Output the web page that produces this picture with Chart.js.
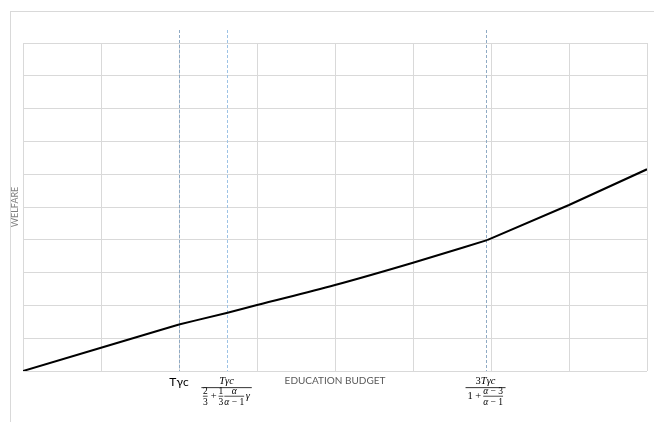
<!DOCTYPE html>
<html>
<head>
<meta charset="utf-8">
<script src="https://cdn.jsdelivr.net/npm/chart.js@4"></script>
<style>
  html, body { margin: 0; padding: 0; background: #fff; }
  canvas { display: block; }
</style>
</head>
<body>
<canvas id="c" width="654" height="422"></canvas>
<script>
// Education budget (x) against welfare (y), in grid units, one list per regime
const budgetLow   = [0, 1, 2];
const welfareLow  = [0, 0.71, 1.42];
const budgetMid   = [2, 2.61, 3, 4, 5, 5.95];
const welfareMid  = [1.42, 1.77, 2.01, 2.62, 3.30, 3.99];
const budgetHigh  = [5.95, 7, 8];
const welfareHigh = [3.99, 5.06, 6.15];

// Threshold budgets marked with dashed guides
const thresholds = [2.0, 2.61, 5.93];

// Labels under each threshold: plain text, or numerator over a denominator
// (denominator items: strings inline, [top, bottom] pairs as small fractions)
const thresholdLabels = [
  { text: 'Tγc' },
  { num: 'Tγc', den: [['2', '3'], '+', ['1', '3'], ['α', 'α − 1'], 'γ'] },
  { num: '3Tγc', den: ['1', '+', ['α − 3', 'α − 1']] }
];

const xTitle = 'EDUCATION BUDGET';
const yTitle = 'WELFARE';

const guideColors = ['#8faac4', '#9dc3e6', '#8faac4'];
const mathFamily = '"Liberation Serif", "DejaVu Serif", serif';

function isLetter(ch) { return /[A-Za-zα-ωΑ-Ω]/.test(ch); }
function charFont(ch, size) {
  return (isLetter(ch) ? 'italic ' : '') + size + 'px ' + mathFamily;
}
function mathWidth(ctx, text, size) {
  let w = 0;
  for (const ch of text) { ctx.font = charFont(ch, size); w += ctx.measureText(ch).width; }
  return w;
}
function drawMath(ctx, text, x, y, size) {
  ctx.textAlign = 'left';
  for (const ch of text) {
    ctx.font = charFont(ch, size);
    ctx.fillText(ch, x, y);
    x += ctx.measureText(ch).width;
  }
}

const MAIN = 10.5, SMALL = 9.5;
function itemWidth(ctx, it) {
  if (Array.isArray(it)) return Math.max(mathWidth(ctx, it[0], SMALL), mathWidth(ctx, it[1], SMALL)) + 1;
  if (it === '+') return mathWidth(ctx, '+', MAIN) + 4;
  return mathWidth(ctx, it, MAIN) + 1;
}

const framePlugin = {
  id: 'frame',
  beforeDraw(chart) {
    const ctx = chart.ctx;
    ctx.save();
    ctx.strokeStyle = '#d9d9d9';
    ctx.lineWidth = 1;
    ctx.strokeRect(10.5, 11.5, 800, 600);
    ctx.restore();
  }
};

const guidePlugin = {
  id: 'guides',
  beforeDatasetsDraw(chart) {
    const ctx = chart.ctx, xs = chart.scales.x, area = chart.chartArea;
    ctx.save();
    ctx.lineWidth = 1;
    ctx.setLineDash([3, 2]);
    thresholds.forEach((v, i) => {
      const px = Math.round(xs.getPixelForValue(v)) + 0.5;
      ctx.strokeStyle = guideColors[i];
      ctx.beginPath();
      ctx.moveTo(px, 30);
      ctx.lineTo(px, area.bottom);
      ctx.stroke();
    });
    ctx.restore();
  }
};

const labelPlugin = {
  id: 'labels',
  afterDraw(chart) {
    const ctx = chart.ctx, xs = chart.scales.x, area = chart.chartArea;
    ctx.save();
    ctx.textBaseline = 'alphabetic';

    // axis titles
    ctx.fillStyle = '#595959';
    ctx.font = '10px Lato, "Open Sans", sans-serif';
    ctx.textAlign = 'center';
    ctx.fillText(xTitle, (area.left + area.right) / 2, area.bottom + 13);

    ctx.save();
    ctx.translate(17.5, (area.top + area.bottom) / 2);
    ctx.rotate(-Math.PI / 2);
    ctx.font = '9px Lato, "Open Sans", sans-serif';
    ctx.fillStyle = '#7f7f7f';
    ctx.fillText(yTitle, 0, 0);
    ctx.restore();

    // threshold labels
    ctx.fillStyle = '#000';
    thresholdLabels.forEach((lab, i) => {
      const cx = xs.getPixelForValue(thresholds[i]);
      if (lab.text) {
        ctx.font = '12px Lato, "Open Sans", sans-serif';
        ctx.textAlign = 'center';
        ctx.fillText(lab.text, cx, area.bottom + 15);
        return;
      }
      const barY = area.bottom + 16.3;
      const numW = mathWidth(ctx, lab.num, MAIN);
      const denW = lab.den.reduce((s, it) => s + itemWidth(ctx, it), 0);
      const barW = Math.max(numW, denW) + 3;
      ctx.fillRect(cx - barW / 2, barY, barW, 0.8);
      drawMath(ctx, lab.num, cx - numW / 2, barY - 3.2, MAIN);

      const smallBar = barY + 8.5;
      let x = cx - denW / 2;
      lab.den.forEach(it => {
        const w = itemWidth(ctx, it);
        if (Array.isArray(it)) {
          const tw = mathWidth(ctx, it[0], SMALL), bw = mathWidth(ctx, it[1], SMALL);
          ctx.fillRect(x, smallBar, w - 1, 0.7);
          drawMath(ctx, it[0], x + (w - 1 - tw) / 2, smallBar - 1.6, SMALL);
          drawMath(ctx, it[1], x + (w - 1 - bw) / 2, smallBar + 8.8, SMALL);
        } else if (it === '+') {
          drawMath(ctx, '+', x + 2, smallBar + 3.6, MAIN);
        } else {
          drawMath(ctx, it, x + 0.5, smallBar + 3.6, MAIN);
        }
        x += w;
      });
    });
    ctx.restore();
  }
};

function series(xs, ys, tension) {
  return {
    data: xs.map((b, i) => ({ x: b, y: ys[i] })),
    borderColor: '#000000',
    borderWidth: 2,
    pointRadius: 0,
    tension: tension,
    cubicInterpolationMode: tension ? 'monotone' : 'default',
    fill: false
  };
}

new Chart(document.getElementById('c'), {
  type: 'line',
  data: {
    datasets: [
      series(budgetLow, welfareLow, 0),
      series(budgetMid, welfareMid, 0.4),
      series(budgetHigh, welfareHigh, 0)
    ]
  },
  options: {
    responsive: false,
    animation: false,
    devicePixelRatio: 1,
    layout: { padding: { left: 23, right: 7, top: 43, bottom: 51 } },
    plugins: { legend: { display: false }, tooltip: { enabled: false } },
    scales: {
      x: {
        type: 'linear', min: 0, max: 8,
        ticks: { display: false, stepSize: 1 },
        grid: { color: '#d9d9d9', lineWidth: 1, drawTicks: false },
        border: { display: false }
      },
      y: {
        min: 0, max: 10,
        ticks: { display: false, stepSize: 1 },
        grid: { color: '#d9d9d9', lineWidth: 1, drawTicks: false },
        border: { display: false }
      }
    }
  },
  plugins: [framePlugin, guidePlugin, labelPlugin]
});
</script>
</body>
</html>
